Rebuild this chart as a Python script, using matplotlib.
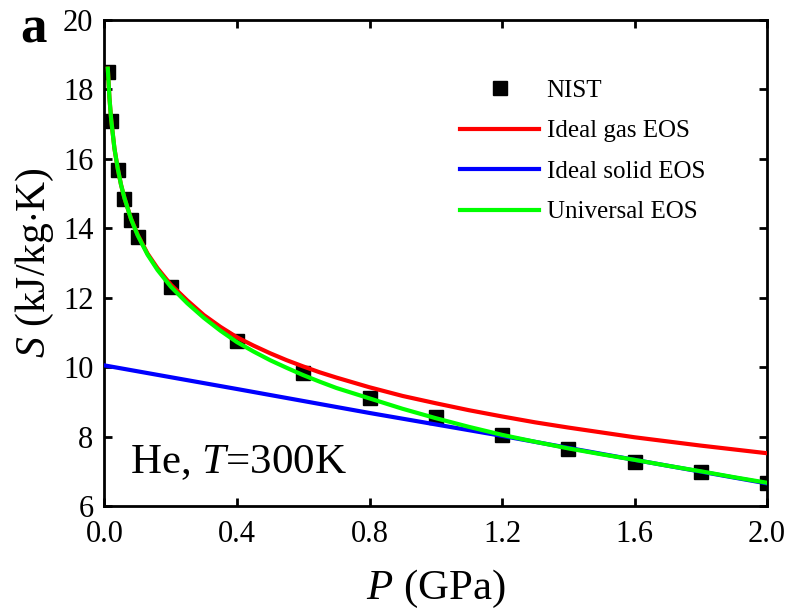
import numpy as np
import matplotlib
matplotlib.use('Agg')
import matplotlib.pyplot as plt

plt.rcParams['font.family'] = ['Liberation Serif', 'DejaVu Serif']
plt.rcParams['mathtext.fontset'] = 'custom'
plt.rcParams['mathtext.rm'] = 'Liberation Serif'
plt.rcParams['mathtext.it'] = 'Liberation Serif:italic'

# NIST reference points, P in GPa, S in kJ/kg.K
nist_p = [0.01, 0.02, 0.04, 0.06, 0.08, 0.1, 0.2, 0.4, 0.6, 0.8, 1.0, 1.2, 1.4, 1.6, 1.8, 2.0]
nist_s = [18.5, 17.08, 15.67, 14.83, 14.23, 13.76, 12.32, 10.76, 9.84, 9.1, 8.56, 8.05, 7.64, 7.28, 6.97, 6.67]

# ideal gas EOS curve
gas_p = [0.01, 0.015, 0.02, 0.03, 0.04, 0.05, 0.06, 0.08, 0.1, 0.13, 0.16, 0.2, 0.25, 0.3,
         0.35, 0.4, 0.45, 0.5, 0.55, 0.6, 0.65, 0.7, 0.75, 0.8, 0.9, 1.0, 1.1, 1.2, 1.3,
         1.4, 1.5, 1.6, 1.7, 1.8, 1.9, 2.0]
gas_s = [18.6, 17.75, 17.15, 16.3, 15.72, 15.25, 14.88, 14.28, 13.82, 13.27, 12.85, 12.38, 11.92, 11.5,
         11.16, 10.86, 10.62, 10.4, 10.2, 10.02, 9.85, 9.7, 9.56, 9.42, 9.17, 8.96, 8.76, 8.58, 8.41,
         8.26, 8.12, 7.98, 7.86, 7.74, 7.63, 7.52]

# ideal solid EOS curve
solid_p = [0.0, 0.4, 0.8, 1.2, 1.6, 2.0]
solid_s = [10.05, 9.37, 8.68, 8.02, 7.33, 6.65]

# universal EOS curve
univ_p = [0.01, 0.015, 0.02, 0.03, 0.04, 0.05, 0.06, 0.08, 0.1, 0.13, 0.16, 0.2, 0.25, 0.3,
          0.35, 0.4, 0.45, 0.5, 0.55, 0.6, 0.65, 0.7, 0.75, 0.8, 0.9, 1.0, 1.1, 1.2, 1.3,
          1.4, 1.5, 1.6, 1.7, 1.8, 1.9, 2.0]
univ_s = [18.6, 17.75, 17.15, 16.3, 15.72, 15.25, 14.88, 14.27, 13.8, 13.24, 12.8, 12.32, 11.84, 11.42,
          11.05, 10.72, 10.45, 10.2, 9.98, 9.77, 9.58, 9.4, 9.25, 9.1, 8.8, 8.53, 8.28, 8.05, 7.85,
          7.66, 7.49, 7.33, 7.16, 7.0, 6.83, 6.67]

fig = plt.figure(figsize=(7.91, 6.12), dpi=100)
ax = fig.add_axes([0.1321, 0.1732, 0.8376, 0.7941])

ax.plot(nist_p, nist_s, 's', color='black', markersize=10, label='NIST', zorder=2)
ax.plot(gas_p, gas_s, color='#ff0000', lw=3, label='Ideal gas EOS', zorder=3)
ax.plot(solid_p, solid_s, color='#0000ff', lw=3, label='Ideal solid EOS', zorder=3)
ax.plot(univ_p, univ_s, color='#00ff00', lw=3, label='Universal EOS', zorder=4)

ax.set_xlim(0, 2.0)
ax.set_ylim(6, 20)
ax.set_xticks(np.arange(0, 2.01, 0.4))
ax.set_yticks(np.arange(6, 20.1, 2))
ax.xaxis.set_major_formatter(matplotlib.ticker.FormatStrFormatter('%.1f'))
ax.tick_params(direction='in', length=6, width=2, labelsize=22,
               top=True, right=True)
ax.tick_params(axis='x', pad=10)
ax.tick_params(axis='y', pad=8)
for sp in ax.spines.values():
    sp.set_linewidth(2)

ax.set_xlabel('$P$ (GPa)', fontsize=31, labelpad=14)
ax.set_ylabel('$S$ (kJ/kg$\\cdot$K)', fontsize=30, labelpad=5)

ax.text(0.077, 6.95, 'He, $T$=300K', fontsize=31)
fig.text(0.025, 0.93, 'a', fontsize=38, fontweight='bold')

ax.legend(loc='upper left', bbox_to_anchor=(0.5366, 0.878), frameon=False,
          fontsize=18, borderpad=0, borderaxespad=0, handlelength=3.16,
          handletextpad=0.3, labelspacing=0.72)

fig.savefig('out.png', dpi=100)
